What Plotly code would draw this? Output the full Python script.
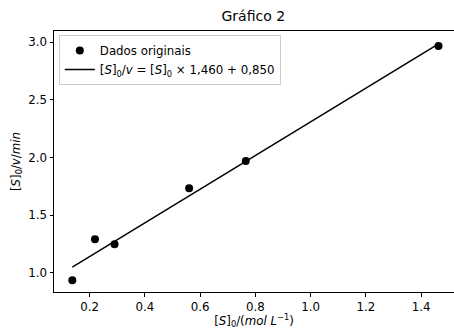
import plotly.graph_objects as go

# Data
s0 = [0.137, 0.219, 0.290, 0.560, 0.765, 1.463]
s0_over_v = [0.937, 1.292, 1.249, 1.735, 1.971, 2.966]
slope = 1.460
intercept = 0.850
x_ticks = [0.2, 0.4, 0.6, 0.8, 1.0, 1.2, 1.4]
y_ticks = [1.0, 1.5, 2.0, 2.5, 3.0]

fit_x = [min(s0), max(s0)]
fit_y = [slope * v + intercept for v in fit_x]

font = "DejaVu Sans, Verdana, sans-serif"
fs = 11.8

fig = go.Figure()
fig.add_trace(go.Scatter(
    x=s0, y=s0_over_v, mode="markers", name="Dados originais",
    marker=dict(color="black", size=8),
))
fig.add_trace(go.Scatter(
    x=fit_x, y=fit_y, mode="lines",
    name="[<i>S</i>]<sub>0</sub>/<i>v</i> = [<i>S</i>]<sub>0</sub> × 1,460 + 0,850",
    line=dict(color="black", width=1.5),
))

fig.update_layout(
    width=454, height=329,
    margin=dict(l=54, r=0, t=31, b=37),
    paper_bgcolor="white", plot_bgcolor="white",
    font=dict(family=font, size=fs, color="black"),
    title=dict(text="Gráfico 2", x=0.558, xanchor="center", y=0.95, yanchor="middle",
               font=dict(size=14, color="black", family=font)),
    showlegend=True,
    legend=dict(x=0.012, y=0.985, xanchor="left", yanchor="top",
                bgcolor="rgba(255,255,255,0.8)", bordercolor="#cccccc", borderwidth=1,
                font=dict(size=fs, family=font), tracegroupgap=0, itemwidth=30),
)
fig.update_xaxes(
    range=[0.0707, 1.519], tickvals=x_ticks, ticktext=[f"{v:.1f}" for v in x_ticks],
    showgrid=False, zeroline=False, showline=True, linecolor="black", linewidth=1,
    mirror=True, ticks="outside", ticklen=3.5, tickcolor="black",
    tickfont=dict(size=fs),
    title=dict(text="[<i>S</i>]<sub>0</sub>/(<i>mol L</i><sup>−1</sup>)", standoff=3,
               font=dict(size=fs)),
)
fig.update_yaxes(
    range=[0.835, 3.097], tickvals=y_ticks, ticktext=[f"{v:.1f}" for v in y_ticks],
    showgrid=False, zeroline=False, showline=True, linecolor="black", linewidth=1,
    mirror=False, ticks="outside", ticklen=3.5, tickcolor="black",
    tickfont=dict(size=fs),
    title=dict(text="[<i>S</i>]<sub>0</sub>/<i>v</i>/<i>min</i>", standoff=5,
               font=dict(size=fs)),
)

fig.write_html("out.html")
